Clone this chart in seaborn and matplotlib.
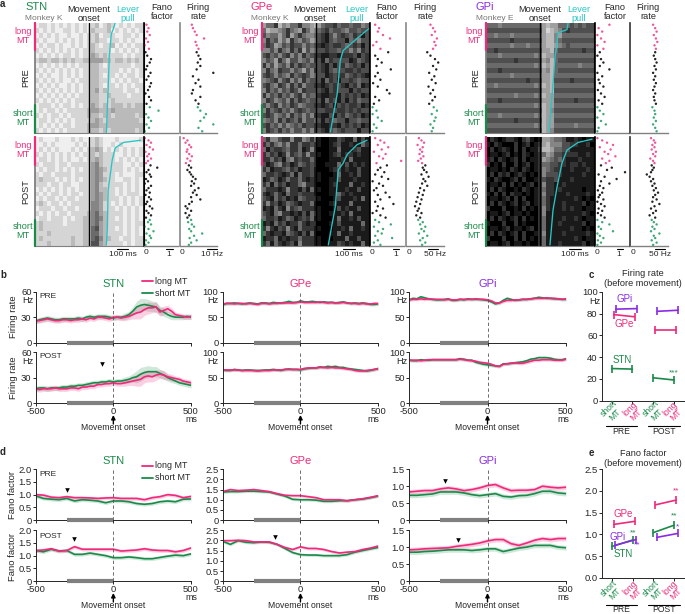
import numpy as np
import pandas as pd
import matplotlib
matplotlib.use('Agg')
import matplotlib.pyplot as plt
import seaborn as sns

sns.set_style('ticks')
plt.rcParams['font.family'] = ['Liberation Sans', 'DejaVu Sans']
plt.rcParams['font.size'] = 6.2
W, H = 685, 614

PINK = '#ee2a7b'
LPINK = '#f0559b'
GREEN = '#1a8a4a'
LGREEN = '#3fa877'
PURPLE = '#8a2be2'
CYAN = '#27c6c6'
GREY = '#808080'

# Raster density, one digit per cell (0 = sparse spikes, 9 = solid), read by eye
RASTER_STN_PRE = [
    "011010101010101201210101011", "101010011010102111201010101",
    "010101001001011201110011010", "101001010101011211011010100",
    "010110100101012101120101011", "101010101010112111101010101",
    "010101011010113212111101011", "122122121211223332212212121",
    "010101010101112210111111011", "101010101010112211111010101",
    "010100101010112210110101101", "101010100101112211101010110",
    "010101001010112210110101011", "101010101010112312111101101",
    "010101010101112211211110111", "101010101011112211121111111",
    "011101011010113212122212122", "010110101111123322232222222",
    "101011010111122212212222212", "011010101011112321222222221",
    "010101011011123322222222222", "101010101111122212122222212"]
RASTER_STN_POST = [
    "010001000101001210001000001", "001010000010101210010100000",
    "010101000101012320101010101", "101010101010112121110010101",
    "011010101001012321110101010", "101110110111113421111100101",
    "010110101010113432111101010", "101101111011113431110100011",
    "121110101010113432110011010", "111011011001113421111101010",
    "010101010101113422110101010", "101011010110113432110101110",
    "010110101101113432111010101", "121011010111114431101010101",
    "011101101101114431110101010", "101010110111124532111101010",
    "011011101011224542110101010", "121111101111224532111101011",
    "121111111111225632110101010", "111211111111225532111101010",
    "121111111211225642211011011", "111211111211226632111101011"]
RASTER_GPE_PRE = [
    "355724355744323566756656645", "523345754375345675665466566",
    "645535735754456786467657686", "475635375465346786566856466",
    "576346576646567876776567686", "446475475736456676656646476",
    "675646746475677887787776867", "465375366456476857666687567",
    "746356475765666786867567686", "475476646536476786566776766",
    "676465475676456687677567678", "456746746475666857686676566",
    "675476475746677876767867587", "475646576476666786766686766",
    "746575646746557887786767687", "476456475765666857686867566",
    "646746576456677876867677687", "475675646765666677677676766",
    "676456475646477886867567687", "456475765746656867566866566",
    "675646456576677887786767687", "476575646646476786567666866"]
RASTER_GPE_POST = [
    "574467747745758998867885868", "757546477577678998768878857",
    "586776577587479998858887688", "757687476574778998768778788",
    "775768547677579998887858888", "687547687567679988858687878",
    "758776576877689998768788688", "577678758577688999858878688",
    "875687577578788998868887888", "758576877547789998788858878",
    "577787477868588998888788688", "787578577677789998857878888",
    "678576878567778999868887858", "747687567877589998788858888",
    "878578476577788999868788688", "678547787868578998887858888",
    "577687568767588999858878688", "878576877578779998868888858",
    "747867478577788999887858878", "578778567868589998858878888",
    "877587877577788999888588688", "758578768477788998867878858"]
RASTER_GPI_PRE = [
    "555455555555553233555656566", "666666666666663123467666666",
    "554555455555553224355555555", "666666766666663224566666666",
    "555555455545553223456555555", "667666666666663325666666766",
    "555455555555452335555555555", "666666676666663425666666666",
    "555555555555452325555554555", "666766666666663425666666666",
    "555555455555553325555555555", "666666666676663326666766666",
    "554555555555452325555555555", "666666666666663326666666666",
    "555555545555452335555555555", "666766666666663336666676666",
    "555555555555452335555555555", "666666666666662346666666666",
    "555455555555452335555555555", "666666676666662336666666666",
    "555555555555452335555545555", "666666666666662346666666666"]
RASTER_GPI_POST = [
    "978987789768983345568878988", "897899979879873244466778879",
    "979878979798862235566888888", "988987989789875346677778878",
    "879789879798873456578887888", "798979979879875566778778788",
    "988989789789874567788788878", "979787987898974666788888788",
    "897899879799876776888788888", "988979798987974778878888888",
    "979789989789875778788888988", "897979788989874778887888878",
    "988987979799875788888878989", "979789879879875788878888798",
    "799979989798974788878788988", "988987988989974888888888789",
    "979789879798975888878878988", "899979979899975888788888798",
    "988987988987975888888788989", "979789879799874888878888878",
    "799979979798975888888878988", "988987988989975888788888798"]

# Lever pull time (ms after onset) against trial fraction
LEVER_STN_PRE = ([0, .05, .1, .3, .6, 1], [220, 205, 187, 170, 160, 145])
LEVER_STN_POST = ([.03, .05, .1, .21, .49, .85, .99], [435, 290, 220, 195, 160, 153, 145])
LEVER_GPE_PRE = ([.05, .14, .25, .34, .64, .99], [460, 358, 238, 213, 187, 128])
LEVER_GPE_POST = ([.03, .07, .16, .24, .30, .64, .99], [443, 358, 273, 238, 196, 170, 110])
LEVER_GPI_PRE = ([0, .06, .09, .18, .31, .67, .99], [239, 230, 153, 145, 128, 102, 77])
LEVER_GPI_POST = ([.02, .05, .12, .24, .46, .67, .99], [443, 324, 230, 187, 145, 111, 85])

# Per-trial Fano factor and firing rate, ordered from long MT to short MT
FF_STN_PRE = [.12, .2, .15, .25, .1, .18, .05, .22, .08, .15, .3, .25, .15, .1, .28, .2,
              .12, .3, .25, .18, .08, .22, .3, .12, .25, .6, .1, .2, .3, .12, .22, .05]
FR_STN_PRE = [3.2, 3.5, 4, 4.5, 6.5, 4.2, 4.5, 5, 4.5, 5, 5.5, 4.8, 5.5, 4.5, 9, 3.5,
              5, 4.2, 5.5, 3.5, 3.2, 5.5, 4.2, 5, 4.8, 5.5, 7, 6.5, 5.5, 9, 5, 6]
FF_STN_POST = [.05, .2, .3, .12, .25, .38, .08, .22, .15, .3, .18, .1, .28, .55, .2, .12,
               .25, .3, .1, .18, .05, .3, .2, .12, .25, .08, .22, .3, .15, .1, .25, .35,
               .12, .2, .3, .1, .25, .18, .3, .05, .2, .4, .12, .25, .3, .1, .2, .08]
FR_STN_POST = [1, 2, 1.5, 2.5, 3, 2, 1.8, 2.5, 3.2, 2, 2.8, 1.6, 2.4, 3, 2, 2.6,
               3, 3.5, 4.2, 3.2, 3.8, 3, 5, 4, 3.5, 4.5, 3, 5.5, 3.2, 2.5, 1.5, 2,
               3, 1.5, 2.5, 2, 3, 2.2, 3.2, 3.8, 2.5, 3, 6, 3.8, 2.6, 4.5, 3, 2.4]
FF_GPE_PRE = [.2, .35, .3, .5, .77, .25, .12, .4, .7, .2, .3, .45, .25, .8, .3, .2,
              .4, .12, .3, .65, .75, .2, .35, .15, .1, .25, .1, .3, .45, .15, .25, .1]
FR_GPE_PRE = [38, 42, 45, 40, 48, 44, 46, 42, 33, 38, 45, 50, 42, 47, 36, 44,
              40, 46, 35, 42, 38, 45, 41, 36, 43, 48, 40, 46, 44, 38, 42, 40]
FF_GPE_POST = [.2, .4, .55, .3, .7, .45, .15, .6, .35, .5, 1.2, .25, .65, .4, .3, .55,
               .2, .45, .7, .1, .35, .5, .25, .15, .6, .3, .75, .4, .2, .9, .3, .5,
               .25, .1, .4, .6, .2, .35, .8, .15, .5, .3, .45, .2, .85, .3, .15, .4]
FR_GPE_POST = [20, 24, 28, 18, 26, 22, 25, 21, 27, 23, 19, 25, 30, 26, 28, 32,
               24, 35, 27, 30, 25, 33, 22, 28, 20, 26, 18, 24, 16, 22, 14, 20,
               18, 24, 16, 22, 19, 26, 22, 30, 24, 28, 20, 33, 26, 22, 30, 25]
FF_GPI_PRE = [.6, .15, .3, .1, .25, .4, .1, .35, .2, .1, .25, .35, .2, .6, .1, .3,
              .15, .2, .35, .12, .25, .4, .15, .3, .1, .2, .35, .1, .25, .45, .15, .1]
FR_GPI_PRE = [33, 36, 38, 34, 37, 39, 35, 37, 36, 34, 36, 38, 35, 37, 33, 36,
              34, 37, 35, 33, 36, 34, 35, 37, 32, 35, 36, 34, 37, 33, 36, 38]
FF_GPI_POST = [.1, .3, .5, .75, .2, .65, .4, .55, .85, .3, .6, .45, .25, .7, .5, 1.25,
               .15, .4, .9, .25, .6, .2, .35, .12, .3, .2, .15, .35, .1, .25, .4, .15,
               .3, .12, .25, .4, .1, .3, .6, .15, .25, .75, .1, .2, .35, .12, .25, .1]
FR_GPI_POST = [30, 34, 36, 32, 35, 31, 37, 33, 36, 29, 33, 35, 31, 34, 32, 30,
               24, 28, 33, 30, 35, 32, 37, 34, 40, 36, 33, 38, 32, 42, 35, 30,
               37, 33, 28, 36, 31, 34, 38, 32, 35, 30, 42, 34, 36, 31, 38, 33]

# Firing rate traces, one value every 25 ms
TIME_FR = list(range(-500, 525, 25))
FR_STN_PRE_LONG = [26, 26, 27, 28, 27, 26, 26, 27, 27, 26, 27, 27, 28, 27, 29, 28, 30, 30, 29, 28,
                   30, 30, 29, 30, 31, 33, 35, 36, 39, 41, 41, 42, 36, 38, 40, 37, 33, 32, 31, 30, 31]
FR_STN_PRE_SHORT = [25, 27, 28, 29, 28, 27, 27, 28, 28, 28, 28, 29, 28, 30, 31, 30, 31, 31, 31, 30,
                    29, 30, 30, 31, 33, 37, 42, 44, 45, 44, 43, 42, 38, 36, 33, 31, 30, 30, 30, 31, 30]
FR_STN_POST_LONG = [17, 16, 17, 17, 17, 18, 17, 17, 17, 18, 18, 17, 19, 19, 20, 20, 22, 22, 23, 23,
                    24, 23, 23, 24, 25, 26, 27, 28, 31, 32, 31, 33, 34, 33, 31, 30, 29, 28, 26, 25, 24]
FR_STN_POST_SHORT = [17, 18, 18, 17, 18, 18, 18, 19, 19, 20, 20, 21, 21, 22, 23, 24, 24, 25, 25, 26,
                     25, 26, 26, 27, 28, 30, 31, 34, 36, 37, 37, 37, 35, 33, 30, 28, 26, 24, 23, 22, 21]
FR_GPE_PRE_LONG = [76, 77, 77, 76, 77, 77, 76, 77, 76, 75, 77, 77, 76, 77, 77, 78, 78, 78, 78, 79,
                   80, 79, 79, 79, 79, 80, 79, 78, 79, 78, 78, 79, 78, 77, 77, 76, 77, 76, 76, 77, 77]
FR_GPE_PRE_SHORT = [74, 77, 77, 78, 77, 76, 77, 78, 77, 76, 78, 78, 77, 79, 78, 78, 79, 81, 79, 79,
                    82, 80, 80, 81, 80, 79, 80, 79, 79, 78, 79, 80, 78, 77, 78, 77, 78, 77, 75, 75, 76]
FR_GPE_POST_LONG = [65, 65, 65, 65, 65, 64, 64, 64, 64, 63, 64, 64, 64, 65, 65, 65, 66, 66, 66, 66,
                    66, 68, 69, 69, 69, 70, 70, 69, 70, 69, 69, 68, 67, 66, 64, 63, 63, 64, 65, 66, 67]
FR_GPE_POST_SHORT = [65, 64, 64, 66, 65, 64, 65, 65, 64, 64, 64, 65, 65, 66, 65, 64, 66, 67, 66, 66,
                     65, 67, 68, 69, 69, 71, 70, 72, 71, 72, 70, 70, 68, 67, 66, 65, 64, 63, 64, 66, 68]
FR_GPI_PRE_LONG = [84, 85, 85, 86, 85, 86, 85, 85, 85, 84, 85, 84, 84, 85, 85, 85, 85, 86, 85, 85,
                   84, 82, 78, 78, 81, 83, 83, 84, 84, 85, 85, 86, 87, 87, 87, 88, 87, 87, 86, 85, 86]
FR_GPI_PRE_SHORT = [84, 87, 86, 90, 88, 86, 85, 84, 84, 85, 86, 83, 83, 85, 84, 86, 85, 85, 85, 84,
                    83, 80, 76, 78, 83, 87, 85, 83, 84, 85, 85, 86, 87, 89, 88, 87, 87, 86, 86, 85, 85]
FR_GPI_POST_LONG = [84, 84, 84, 83, 84, 85, 85, 85, 85, 85, 85, 85, 85, 86, 85, 84, 83, 82, 80, 79,
                    78, 76, 73, 72, 76, 77, 78, 79, 78, 78, 80, 82, 84, 84, 85, 85, 85, 84, 84, 84, 86]
FR_GPI_POST_SHORT = [84, 83, 83, 85, 84, 84, 85, 85, 85, 85, 85, 85, 85, 87, 86, 84, 84, 80, 78, 76,
                     75, 74, 73, 72, 77, 77, 78, 79, 80, 81, 83, 86, 87, 89, 89, 89, 88, 86, 85, 85, 87]
BAND_STN_FR = [3, 3, 3, 3, 3, 3, 3, 3, 3, 3, 3, 3, 3, 3, 3, 3, 3, 3, 3, 3,
               3, 3, 3, 4, 4, 5, 7, 8, 7, 7, 6, 6, 5, 5, 4, 4, 3, 3, 3, 3, 3]
BAND_FLAT_FR = 3

# Fano factor traces, one value every 50 ms
TIME_FANO = list(range(-500, 550, 50))
FANO_STN_PRE_LONG = [1.0, .98, .9, .88, .92, .88, .88, .87, .85, .87, .88, .85, .85, .85, .8, .88, .92, 1.0, .97, .88, .93]
FANO_STN_PRE_SHORT = [.95, .85, .82, .8, .85, .75, .8, .78, .75, .68, .75, .75, .72, .65, .62, .65, .72, .75, .72, .82, .83]
FANO_STN_POST_LONG = [1.2, 1.22, 1.27, 1.18, 1.2, 1.35, 1.25, 1.25, 1.25, 1.25, 1.25, 1.18, 1.2, 1.22, 1.27, 1.22, 1.2, 1.2, 1.15, 1.2, 1.3]
FANO_STN_POST_SHORT = [1.2, 1.15, 1.25, 1.18, 1.2, 1.05, 1.05, 1.1, 1.05, 1.0, .92, .92, .95, .92, .88, .88, .93, .98, 1.02, 1.0, 1.07]
FANO_GPE_PRE_LONG = [1.4, 1.5, 1.45, 1.47, 1.5, 1.45, 1.4, 1.3, 1.22, 1.2, 1.2, 1.15, 1.1, 1.0, 1.0, 1.0, .95, 1.0, 1.05, 1.12, 1.2]
FANO_GPE_PRE_SHORT = [1.38, 1.4, 1.4, 1.42, 1.42, 1.4, 1.38, 1.28, 1.18, 1.02, 1.0, 1.0, .98, .92, .92, .95, .95, 1.0, 1.03, 1.1, 1.18]
FANO_GPE_POST_LONG = [1.98, 1.98, 2.0, 1.98, 1.92, 1.92, 1.92, 1.8, 1.65, 1.55, 1.68, 1.6, 1.6, 1.55, 1.45, 1.38, 1.42, 1.45, 1.55, 1.62, 1.72]
FANO_GPE_POST_SHORT = [1.95, 1.8, 1.98, 1.9, 1.88, 1.92, 1.9, 1.8, 1.6, 1.4, 1.3, 1.28, 1.28, 1.25, 1.25, 1.25, 1.3, 1.42, 1.5, 1.58, 1.65]
FANO_GPI_PRE_LONG = [.83, .85, .87, .87, .92, .95, .92, .87, .9, .95, 1.02, 1.05, .95, .87, .88, .88, .9, 1.0, .97, .95, .97]
FANO_GPI_PRE_SHORT = [.73, .73, .75, .77, .83, .83, .83, .8, .75, .72, .75, .78, .7, .68, .72, .73, .78, .85, .85, .8, .78]
FANO_GPI_POST_LONG = [.92, .93, .95, .96, .97, .98, 1.02, 1.05, 1.08, 1.12, 1.18, 1.22, 1.22, 1.1, 1.05, 1.12, 1.2, 1.25, 1.22, 1.25, 1.25]
FANO_GPI_POST_SHORT = [.85, .85, .87, .88, .9, .92, .92, .92, .9, .92, .95, .95, .87, .92, .97, 1.0, 1.05, 1.05, 1.05, 1.0, .98]
BAND_FANO = .07

# Summary panels: short PRE, long PRE, short POST, long POST
SUMMARY_X = [0, 1, 2, 3]
RATE_STN = [29.5, 29, 21, 19]
RATE_GPE = [79, 77, 65, 65]
RATE_GPI = [84, 84.5, 82, 83]
FANO_STN = [.72, .87, 1.04, 1.21]
FANO_GPE = [1.23, 1.30, 1.68, 1.79]
FANO_GPI = [.75, .88, .93, 1.02]

fig = plt.figure(figsize=(W / 100, H / 100), dpi=100)


def axes_px(x0, y0, x1, y1):
    ax = fig.add_axes([x0 / W, 1 - y1 / H, (x1 - x0) / W, (y1 - y0) / H])
    ax.patch.set_alpha(0)
    return ax


def label(x, y, s, **kw):
    kw.setdefault('ha', 'center')
    kw.setdefault('va', 'center')
    fig.text(x / W, 1 - y / H, s, **kw)


def hline(x0, x1, y, color='black', lw=.8):
    fig.add_artist(plt.Line2D([x0 / W, x1 / W], [1 - y / H, 1 - y / H], color=color, lw=lw))


def up_arrow(x, y0, y1):
    fig.add_artist(matplotlib.patches.FancyArrowPatch(
        (x / W, 1 - y0 / H), (x / W, 1 - y1 / H), transform=fig.transFigure,
        arrowstyle='-|>', mutation_scale=6, color='black', lw=1, shrinkA=0, shrinkB=0))


def raster(box, cells, lever, bar_top, bar_bottom):
    x0, y0, x1, y1 = box
    ax = axes_px(*box)
    grid = np.array([[int(c) for c in row] for row in cells])
    sns.heatmap(grid, ax=ax, cmap='gray_r', vmin=-.6, vmax=9, cbar=False,
                xticklabels=False, yticklabels=False)
    top = axes_px(*box)
    top.set_xlim(-460, 460)
    top.set_ylim(1, 0)
    top.axvline(0, color='black', lw=1)
    top.plot(lever[1], lever[0], color=CYAN, lw=.95)
    top.set_xticks([])
    top.set_yticks([])
    top.spines['top'].set_visible(False)
    top.spines['left'].set_color(GREY)
    top.spines['left'].set_linewidth(1.3)
    top.spines['bottom'].set_color(GREY)
    top.spines['right'].set_color('black')
    top.spines['right'].set_linewidth(.8)
    fig.add_artist(plt.Line2D([x0 / W, x0 / W], [1 - y0 / H, 1 - bar_top / H], color=PINK, lw=1.6))
    fig.add_artist(plt.Line2D([x0 / W, x0 / W], [1 - bar_bottom / H, 1 - y1 / H], color=GREEN, lw=1.6))


def trials(box, values, xmax, spine_color):
    ax = axes_px(*box)
    n = len(values)
    rank = np.arange(n)
    group = np.where(rank < n * .25, 'long', np.where(rank < n * .75, 'mid', 'short'))
    df = pd.DataFrame({'value': values, 'rank': rank + .5, 'group': group})
    sns.scatterplot(data=df, x='value', y='rank', hue='group', ax=ax, s=3, linewidth=0,
                    palette={'long': LPINK, 'mid': '#222222', 'short': LGREEN}, legend=False)
    ax.set_xlim(0, xmax)
    ax.set_ylim(n, 0)
    ax.set_xticks([])
    ax.set_yticks([])
    ax.set_xlabel('')
    ax.set_ylabel('')
    sns.despine(ax=ax)
    ax.spines['left'].set_color(spine_color)
    ax.spines['left'].set_linewidth(1.2)
    ax.spines['bottom'].set_color(GREY)
    ax.spines['bottom'].set_linewidth(1)


def trace(box, time, long_vals, short_vals, band, ymax, yticks, show_x):
    ax = axes_px(*box)
    t = np.array(time)
    n = len(time)
    df = pd.DataFrame({'t': time + time, 'v': short_vals + long_vals,
                       'g': ['short'] * n + ['long'] * n})
    ax.fill_between(t, np.array(short_vals) - band, np.array(short_vals) + band,
                    color=GREEN, alpha=.2, lw=0)
    ax.fill_between(t, np.array(long_vals) - band, np.array(long_vals) + band,
                    color=PINK, alpha=.22, lw=0)
    sns.lineplot(data=df, x='t', y='v', hue='g', palette={'long': PINK, 'short': GREEN},
                 ax=ax, lw=1.2, legend=False, errorbar=None)
    ax.axvline(0, color='#555555', lw=.6, ls=(0, (4, 3)))
    ax.set_xlim(-500, 500)
    ax.set_ylim(0, ymax)
    ax.set_yticks(yticks)
    ax.set_yticklabels([f'{v:g}' if isinstance(v, int) else f'{v:.1f}' for v in yticks])
    ax.set_xticks([-500, 0, 500])
    ax.set_xticklabels(['-500', '0', '500'] if show_x else [])
    ax.tick_params(length=2, width=.7, pad=1, labelsize=6.8)
    ax.set_xlabel('')
    ax.set_ylabel('')
    sns.despine(ax=ax)
    ax.spines['left'].set_linewidth(.7)
    ax.spines['bottom'].set_linewidth(.7)
    ax.plot([-300, 0], [0, 0], color=GREY, lw=3, clip_on=False, solid_capstyle='butt', zorder=5)
    return ax


def summary(box, series, ymax, yticks, fmt):
    ax = axes_px(*box)
    for vals, color, off in series:
        for i in [0, 2]:
            xs = np.array(SUMMARY_X[i:i + 2]) + off
            df = pd.DataFrame({'x': xs, 'y': vals[i:i + 2]})
            sns.lineplot(data=df, x='x', y='y', color=color, lw=1.2, ax=ax, errorbar=None,
                         marker='|', markersize=6, markeredgewidth=1.2, markeredgecolor=color)
    ax.set_xlim(-.48, 3.53)
    ax.set_ylim(0, ymax)
    ax.set_yticks(yticks)
    ax.set_yticklabels([fmt.format(v) for v in yticks])
    ax.set_xticks(SUMMARY_X)
    ax.set_xticklabels([])
    ax.tick_params(length=2, width=.7, pad=1, labelsize=6.8)
    ax.set_xlabel('')
    ax.set_ylabel('')
    sns.despine(ax=ax)
    ax.spines['left'].set_linewidth(.7)
    ax.spines['bottom'].set_linewidth(.7)


# Panel a
COLUMNS = [
    dict(name='STN', col=GREEN, tx=37, monkey='Monkey K', mx=44, box=(35, 143.5), on=89, lever=128,
         ff=(143.5, 178, 25, 162), fr=(180, 217, 3.7, 198), side=23, rot=26,
         ms=(123, 117, 128), ffs=(146, 169, 166, 173), frs=(182, 212, '10 Hz', 207, 217), sc='#888888',
         rasters=(RASTER_STN_PRE, RASTER_STN_POST), levers=(LEVER_STN_PRE, LEVER_STN_POST),
         ffv=(FF_STN_PRE, FF_STN_POST), frv=(FR_STN_PRE, FR_STN_POST)),
    dict(name='GPe', col=PINK, tx=262, monkey='Monkey K', mx=270, box=(262, 369), on=315, lever=357,
         ff=(370, 404, 26, 387), fr=(406, 444, 38 / 59, 425), side=250, rot=252,
         ms=(349, 343, 355), ffs=(372, 396, 393, 399), frs=(409, 435, '50 Hz', 428, 438), sc='#888888',
         rasters=(RASTER_GPE_PRE, RASTER_GPE_POST), levers=(LEVER_GPE_PRE, LEVER_GPE_POST),
         ffv=(FF_GPE_PRE, FF_GPE_POST), frv=(FR_GPE_PRE, FR_GPE_POST)),
    dict(name='GPi', col=PURPLE, tx=485, monkey='Monkey E', mx=495, box=(486, 594), on=540, lever=579,
         ff=(595, 629, 24, 615), fr=(630, 668, .7, 648), side=474, rot=476,
         ms=(575, 569, 581), ffs=(597, 619, 617, 623), frs=(633, 660, '50 Hz', 655, 665), sc='#333333',
         rasters=(RASTER_GPI_PRE, RASTER_GPI_POST), levers=(LEVER_GPI_PRE, LEVER_GPI_POST),
         ffv=(FF_GPI_PRE, FF_GPI_POST), frv=(FR_GPI_PRE, FR_GPI_POST)),
]
ROWS = [(23, 133, 50, 105, 'PRE', 78), (137, 246, 165, 220, 'POST', 192)]

for c in COLUMNS:
    label(c['tx'], 7, c['name'], color=c['col'], fontsize=8)
    label(c['mx'], 18, c['monkey'], color='#777777', fontsize=6)
    label(c['on'], 14, 'Movement\nonset', linespacing=.95, fontsize=6.6)
    label(c['lever'], 14, 'Lever\npull', color=CYAN, linespacing=.95, fontsize=6.6)
    label(c['ff'][3], 12, 'Fano\nfactor', linespacing=1.1, fontsize=6.6)
    label(c['fr'][3], 12, 'Firing\nrate', linespacing=1.1, fontsize=6.6)
    for i, (y0, y1, a, b, tag, ymid) in enumerate(ROWS):
        raster((c['box'][0], y0, c['box'][1], y1), c['rasters'][i], c['levers'][i], a, b)
        ff = c['ff']
        trials((ff[0], y0, ff[1], y1), c['ffv'][i], (ff[1] - ff[0]) / ff[2], 'black')
        fr = c['fr']
        trials((fr[0], y0, fr[1], y1), c['frv'][i], (fr[1] - fr[0]) / fr[2], c['sc'])
        label(c['side'], y0 + 13, 'long\nMT', color=PINK, linespacing=1.1, fontsize=6.6)
        label(c['side'], y1 - 15, 'short\nMT', color=GREEN, linespacing=1.1, fontsize=6.6)
        label(c['rot'], ymid, tag, rotation=90, fontsize=6.6)
    label(c['ms'][0], 254, '100 ms', fontsize=6)
    hline(c['ms'][1], c['ms'][2], 249)
    label(c['ffs'][0], 253, '0', fontsize=6)
    label(c['ffs'][1], 254, '1', fontsize=6)
    hline(c['ffs'][2], c['ffs'][3], 249)
    label(c['frs'][0], 253, '0', fontsize=6)
    label(c['frs'][1], 254, c['frs'][2], fontsize=6)
    hline(c['frs'][3], c['frs'][4], 249)

# Panels b and d
XS = [(35.7, 191), (222.6, 378.3), (409, 566)]
NAMES = [('STN', GREEN), ('GPe', PINK), ('GPi', PURPLE)]
FR_DATA = [
    ((FR_STN_PRE_LONG, FR_STN_PRE_SHORT), (FR_STN_POST_LONG, FR_STN_POST_SHORT)),
    ((FR_GPE_PRE_LONG, FR_GPE_PRE_SHORT), (FR_GPE_POST_LONG, FR_GPE_POST_SHORT)),
    ((FR_GPI_PRE_LONG, FR_GPI_PRE_SHORT), (FR_GPI_POST_LONG, FR_GPI_POST_SHORT)),
]
FANO_DATA = [
    ((FANO_STN_PRE_LONG, FANO_STN_PRE_SHORT), (FANO_STN_POST_LONG, FANO_STN_POST_SHORT)),
    ((FANO_GPE_PRE_LONG, FANO_GPE_PRE_SHORT), (FANO_GPE_POST_LONG, FANO_GPE_POST_SHORT)),
    ((FANO_GPI_PRE_LONG, FANO_GPI_PRE_SHORT), (FANO_GPI_POST_LONG, FANO_GPI_POST_SHORT)),
]
FANO_LIMS = [(2.0, [0, .5, 1.0, 1.5, 2.0]), (2.5, [0, .5, 1.0, 1.5, 2.0, 2.5]), (1.5, [0, .5, 1.0, 1.5])]
HZ_X = [28, 213, 402]
MS_X = [191, 373, 563]
# arrowheads on the Fano traces: (column, row, time, value)
FANO_MARKS = [(0, 0, -300, 1.2), (0, 1, -255, 1.65), (1, 1, -165, 2.18), (2, 0, -270, 1.15), (2, 1, -190, 1.2)]

for j, (x0, x1) in enumerate(XS):
    mid = (x0 + x1) / 2
    label(mid, 284, NAMES[j][0], color=NAMES[j][1], fontsize=8)
    label(mid, 461, NAMES[j][0], color=NAMES[j][1], fontsize=8)
    ymax = 60 if j == 0 else 100
    ticks = [0, 30, 60] if j == 0 else [0, 50, 100]
    for i, (y0, y1) in enumerate([(291.7, 342.7), (352, 403.3)]):
        band = np.array(BAND_STN_FR) if j == 0 else BAND_FLAT_FR
        ax = trace((x0, y0, x1, y1), TIME_FR, FR_DATA[j][i][0], FR_DATA[j][i][1], band, ymax, ticks, i == 1)
        label(HZ_X[j], y0 + 9, 'Hz', fontsize=6.6)
        if j == 0 and i == 1:
            ax.scatter([-70], [46], marker='v', s=11, color='black', lw=0)
    fmax, fticks = FANO_LIMS[j]
    for i, (y0, y1) in enumerate([(469.3, 520), (530, 581.3)]):
        ax = trace((x0, y0, x1, y1), TIME_FANO, FANO_DATA[j][i][0], FANO_DATA[j][i][1], BAND_FANO, fmax, fticks, i == 1)
        for col, row, mt, mv in FANO_MARKS:
            if col == j and row == i:
                ax.scatter([mt], [mv], marker='v', s=11, color='black', lw=0)
    for ms_y, text_y, a0, a1 in [(420, 428, 424, 415), (598, 606, 602, 593)]:
        label(MS_X[j], ms_y, 'ms', fontsize=6.4)
        label(mid, text_y, 'Movement onset', fontsize=6.2)
        up_arrow(mid, a0, a1)

for ytxt, tag in [(296, 'PRE'), (356, 'POST'), (475, 'PRE'), (536, 'POST')]:
    label(39, ytxt, tag, ha='left', fontsize=6)
for ytxt, tag in [(317, 'Firing rate'), (378, 'Firing rate'), (495, 'Fano factor'), (557, 'Fano factor')]:
    label(13, ytxt, tag, rotation=90, fontsize=6.8)
for top in [281, 466]:
    hline(142, 153, top, color=PINK, lw=1.3)
    hline(142, 153, top + 12, color=GREEN, lw=1.3)
    label(155, top, 'long MT', ha='left', fontsize=6.4)
    label(155, top + 12, 'short MT', ha='left', fontsize=6.4)

# Panels c and e
summary((601.7, 291.7, 685, 400.7),
        [(RATE_GPI, PURPLE, .2), (RATE_GPE, PINK, .1), (RATE_STN, GREEN, 0)],
        100, [0, 20, 40, 60, 80, 100], '{:d}')
summary((602, 469.3, 685, 577.7),
        [(FANO_GPE, PINK, .1), (FANO_STN, GREEN, 0), (FANO_GPI, PURPLE, .17)],
        2.5, [0, .5, 1.0, 1.5, 2.0, 2.5], '{:.1f}')
label(589, 301, 'Hz', ha='left', fontsize=6.6)
for y_top, line_y, tag_y in [(274, 425.7, 431), (453, 605, 610)]:
    title = 'Firing rate' if y_top == 274 else 'Fano factor'
    label(643, y_top, title, fontsize=6.6)
    label(643, y_top + 10, '(before movement)', fontsize=6.6)
    hline(606, 637, line_y)
    hline(648, 680, line_y)
    label(621, tag_y, 'PRE', fontsize=6.2)
    label(664, tag_y, 'POST', fontsize=6.2)
    for x_tick, tag, col in [(612, 'short\nMT', GREEN), (633, 'long\nMT', PINK),
                             (654, 'short\nMT', GREEN), (673, 'long\nMT', PINK)]:
        label(x_tick, line_y - 14, tag, color=col, rotation=45, fontsize=6.2, linespacing=.95)

label(625, 299, 'GPi', color=PURPLE, fontsize=7)
label(624, 324, 'GPe', color=PINK, fontsize=7)
label(622, 360, 'STN', color=GREEN, fontsize=7)
label(674, 373, '***', color=GREEN, fontsize=6)
label(623, 514, 'GPe', color=PINK, fontsize=7)
label(618, 537, 'GPi', color=PURPLE, fontsize=7)
label(623, 554, 'STN', color=GREEN, fontsize=7)
label(633, 533, '**', color=GREEN, fontsize=6)
label(637, 545, '**', color=PURPLE, fontsize=6)
label(676, 491, '**', color=PINK, fontsize=6)
label(674, 516, '**', color=GREEN, fontsize=6)
label(678, 527, '*', color=PURPLE, fontsize=6)

for x_l, y_l, tag in [(0, 4, 'a'), (0, 275, 'b'), (589, 275, 'c'), (0, 452, 'd'), (589, 453, 'e')]:
    label(x_l, y_l, tag, ha='left', fontweight='bold', fontsize=7)

fig.savefig('out.png', dpi=100)
